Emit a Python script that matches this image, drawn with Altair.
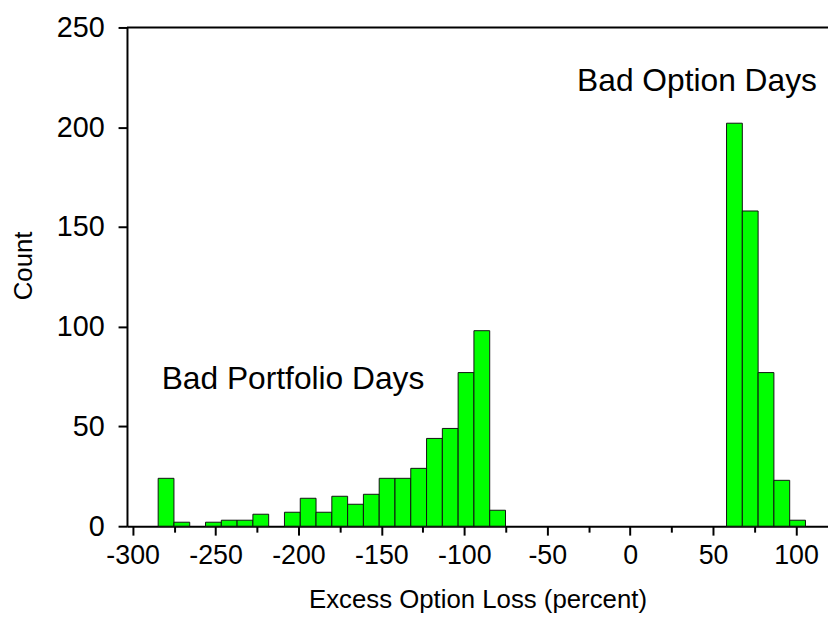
import altair as alt
import pandas as pd

# Histogram bins (equal width)
bin_start = -284.6
bin_width = 9.52
counts = [24, 2, 0, 2, 3, 3, 6, 0, 7, 14, 7, 15, 11, 16, 24, 24, 29, 44, 49, 77, 98, 8,
          0, 0, 0, 0, 0, 0, 0, 0, 0, 0, 0, 0, 0, 0,
          202, 158, 77, 23, 3]

x_ticks = [-300, -275, -250, -225, -200, -175, -150, -125, -100, -75, -50, -25, 0, 25, 50, 75, 100]
y_ticks = [0, 50, 100, 150, 200, 250]

annot_text = ["Bad Portfolio Days", "Bad Option Days"]
annot_x = [-282.5, -32.0]
annot_y = [68.8, 218.0]

lo = [bin_start + i * bin_width for i in range(len(counts))]
df = pd.DataFrame({"lo": lo, "hi": [v + bin_width for v in lo], "count": counts})
df = df[df["count"] > 0]

FONT = "Liberation Sans"
xscale = alt.Scale(domain=[-303.4, 119.3], nice=False, zero=False)
yscale = alt.Scale(domain=[0, 250], nice=False)

bars = alt.Chart(df).mark_bar(color="#00ff00", stroke="#111111", strokeWidth=1).encode(
    x=alt.X("lo:Q", scale=xscale, title="Excess Option Loss (percent)",
            axis=alt.Axis(values=x_ticks, grid=False,
                          labelExpr="datum.value % 50 === 0 ? '' + datum.value : ''",
                          tickSize={"expr": "datum.value % 50 === 0 ? 9 : 6"},
                          tickWidth=2, domainWidth=2, domainColor="black", tickColor="black",
                          labelFont=FONT, labelFontSize=27, labelColor="black", labelPadding=8,
                          titleFont=FONT, titleFontSize=26, titleFontWeight="normal",
                          titleColor="black", titlePadding=18, labelFlush=False)),
    x2="hi:Q",
    y=alt.Y("count:Q", scale=yscale, title="Count",
            axis=alt.Axis(values=y_ticks, grid=False, tickSize=9, tickWidth=2, domainWidth=2,
                          domainColor="black", tickColor="black",
                          labelFont=FONT, labelFontSize=29, labelColor="black", labelPadding=14,
                          titleFont=FONT, titleFontSize=26, titleFontWeight="normal",
                          titleColor="black", titlePadding=20, titleY=240)),
    y2=alt.datum(0),
)

top_line = alt.Chart(pd.DataFrame({"v": [250]})).mark_rule(color="black", strokeWidth=2).encode(
    y=alt.Y("v:Q", scale=yscale), x=alt.value(0), x2=alt.value(707)
)

adf = pd.DataFrame({"t": annot_text, "x": annot_x, "y": annot_y})
annots = alt.Chart(adf).mark_text(font=FONT, fontSize=32, align="left", baseline="alphabetic",
                                   color="black").encode(
    x=alt.X("x:Q", scale=xscale), y=alt.Y("y:Q", scale=yscale), text="t:N"
)

chart = alt.layer(bars, top_line, annots).properties(
    width=707, height=503,
    autosize=alt.AutoSizeParams(type="none"),
    padding={"left": 120, "top": 17, "right": 0, "bottom": 95},
).configure_view(stroke=None)

chart.save("out.html", embed_options={"renderer": "svg", "actions": False})
